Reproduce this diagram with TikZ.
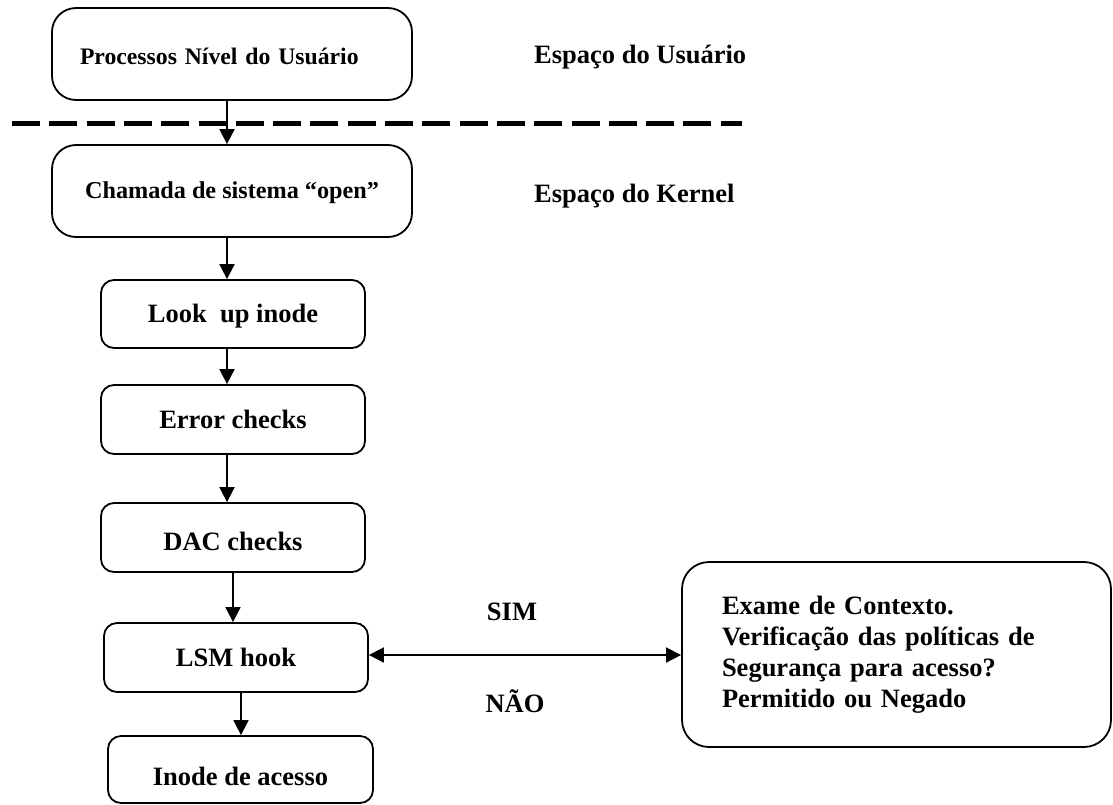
\documentclass[tikz,border=0pt]{standalone}
\usepackage{fontspec}
\setmainfont{Liberation Serif}
\usetikzlibrary{arrows.meta}
\begin{document}
\begin{tikzpicture}[x=1pt,y=-1pt,
  boxbase/.style={draw, line width=1.8pt, inner sep=0pt},
  bigbox/.style={boxbase, rounded corners=24pt, font=\bfseries\fontsize{24.2}{29}\selectfont,
    minimum width=360pt, minimum height=92pt, align=left, text height=16.8pt, text depth=1pt},
  smallbox/.style={boxbase, rounded corners=13pt, font=\bfseries\fontsize{26.5}{31}\selectfont,
    minimum height=69pt, minimum width=264pt, text height=18.5pt, text depth=1pt},
  lbl/.style={font=\bfseries\fontsize{26.5}{31}\selectfont, inner sep=0pt},
  arr/.style={line width=1.8pt, -{Triangle[length=15pt,width=15pt]}},
  dbl/.style={line width=1.8pt, {Triangle[length=15pt,width=15pt]}-{Triangle[length=15pt,width=15pt]}},
  sep/.style={line width=5pt, dash pattern=on 28pt off 9.3pt}]
\useasboundingbox (0,0) rectangle (1113,804);

% boxes
\node[bigbox, font=\bfseries\fontsize{23.7}{29}\selectfont, text width=304pt, text height=22.8pt] (A) at (232,54) {Processos Nível do Usuário};
\node[bigbox] (B) at (232,191) {Chamada de sistema “open”};
\node[smallbox, minimum height=68pt] (C) at (233,314) {Look\ \ up inode};
\node[smallbox] (D) at (233,419.5) {Error checks};
\node[smallbox, text height=26.5pt] (E) at (233,537.5) {DAC checks};
\node[smallbox] (F) at (236,657.5) {LSM hook};
\node[smallbox, minimum width=265pt, minimum height=67pt, text height=32.5pt] (G) at (240.5,769.5) {Inode de acesso};
\node[boxbase, rounded corners=27pt, font=\bfseries\fontsize{26.5}{31}\selectfont,
  minimum width=429pt, minimum height=185pt, align=left, text width=349pt] (H) at (896.5,654.5)
  {Exame de Contexto.\\Verificação das políticas de\\Segurança para acesso?\\Permitido ou Negado};

% labels
\node[lbl, anchor=base west] (eu) at (534,63) {Espaço do Usuário};
\node[lbl, anchor=base west] (ek) at (534,202) {Espaço do Kernel};
\node[lbl, anchor=base] (sim) at (512,620) {SIM};
\node[lbl, anchor=base] (nao) at (515,712) {NÃO};

% separator
\coordinate (dL) at (12,123);
\coordinate (dR) at (742,123);
\draw[sep] (dL) -- (dR);

% connectors
\coordinate (x1) at (227,0);
\coordinate (x2) at (233,0);
\coordinate (x3) at (241,0);
\coordinate (yh) at (0,655);
\draw[arr] (A.south -| x1) -- (B.north -| x1);
\draw[arr] (B.south -| x1) -- (C.north -| x1);
\draw[arr] (C.south -| x1) -- (D.north -| x1);
\draw[arr] (D.south -| x1) -- (E.north -| x1);
\draw[arr] (E.south -| x2) -- (F.north -| x2);
\draw[arr] (F.south -| x3) -- (G.north -| x3);
\draw[dbl] (F.east |- yh) -- (H.west |- yh);
\end{tikzpicture}
\end{document}
